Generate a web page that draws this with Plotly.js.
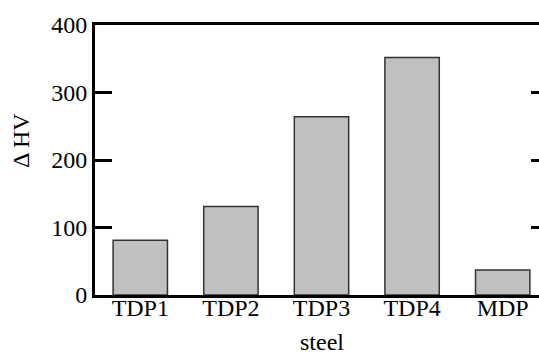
<!DOCTYPE html>
<html><head><meta charset="utf-8">
<script src="https://cdn.plot.ly/plotly-3.0.1.min.js"></script>
<style>
html,body{margin:0;padding:0;overflow:hidden;background:#fff;}
#chart text{font-family:"Liberation Serif","Times New Roman",serif !important;}
</style>
</head><body>
<div id="chart" style="width:560px;height:354px;"></div>
<script>
const categories = ["TDP1", "TDP2", "TDP3", "TDP4", "MDP"];
const deltaHV = [81, 131, 264, 352, 37];
const yTicks = [0, 100, 200, 300, 400];

const serif = "Liberation Serif";
const tickFont = {family: serif, size: 24, color: "#000"};
const titleFont = {family: serif, size: 24, color: "#000"};

Plotly.newPlot("chart", [{
  type: "bar",
  x: categories,
  y: deltaHV,
  width: 0.6,
  marker: {color: "#c0c0c0", line: {color: "#333", width: 1.5}},
  hoverinfo: "none"
}], {
  width: 560, height: 354,
  margin: {l: 95, r: 12, t: 25, b: 59},
  paper_bgcolor: "#fff", plot_bgcolor: "#fff",
  font: {family: serif, size: 24, color: "#000"},
  showlegend: false,
  xaxis: {
    showline: true, linewidth: 3, linecolor: "#000", mirror: true,
    ticks: "", ticklen: 0, showgrid: false, zeroline: false,
    tickfont: tickFont, ticklabelstandoff: -11
  },
  yaxis: {
    range: [0, 400], tickvals: yTicks, ticktext: yTicks.map(String),
    showline: true, linewidth: 3, linecolor: "#000", mirror: "ticks",
    ticks: "inside", ticklen: 17, tickwidth: 3, tickcolor: "#000",
    showgrid: false, zeroline: false,
    tickfont: tickFont
  },
  annotations: [{
    text: "Δ HV", textangle: -90, showarrow: false,
    xref: "paper", yref: "paper", x: 0, xshift: -74, y: 0.57,
    xanchor: "center", yanchor: "middle", font: titleFont
  }, {
    text: "steel", showarrow: false,
    xref: "paper", yref: "paper", x: 0.5, y: 0, yshift: -47,
    xanchor: "center", yanchor: "middle", font: titleFont
  }]
}, {staticPlot: true});
</script>
</body></html>
